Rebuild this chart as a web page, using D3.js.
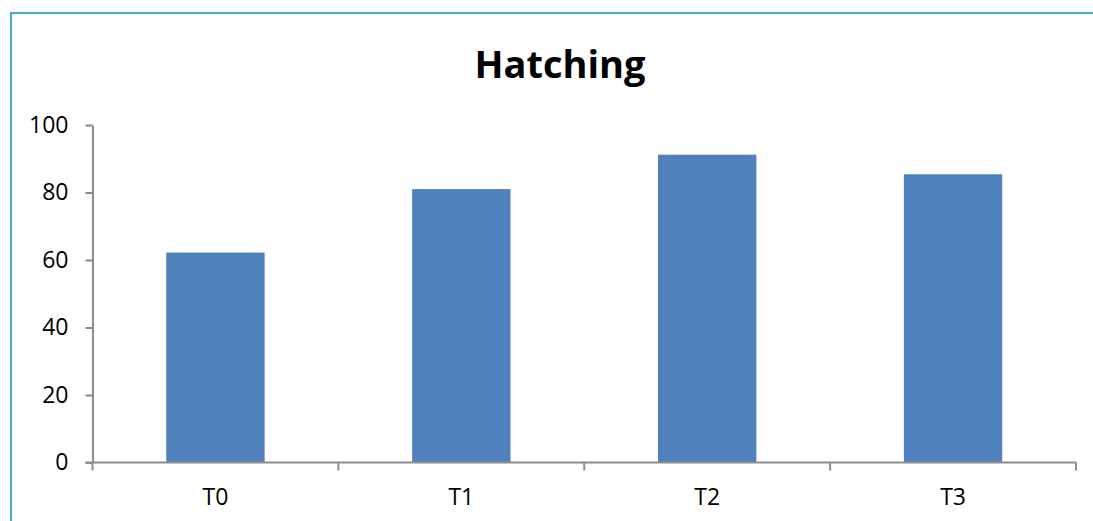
<!DOCTYPE html>
<html>
<head>
<meta charset="utf-8">
<script src="https://cdn.jsdelivr.net/npm/d3@7"></script>
<style>
  html, body { margin: 0; padding: 0; background: #fff; }
  svg { display: block; }
  text { font-family: "Open Sans", "Noto Sans", sans-serif; fill: #000; }
</style>
</head>
<body>
<svg id="chart" width="1093" height="521"></svg>
<script>
// Hatching rate by treatment
const categories = ["T0", "T1", "T2", "T3"];
const values = [62.2, 81.0, 91.2, 85.4];
const yTicks = [0, 20, 40, 60, 80, 100];
const title = "Hatching";

const svg = d3.select("#chart");
const W = 1093, H = 521;
const plot = { left: 92.5, right: 1076, top: 125, bottom: 462.5 };

// chart frame
svg.append("rect")
  .attr("x", 11).attr("y", 13)
  .attr("width", W + 10).attr("height", H + 10)
  .attr("fill", "none")
  .attr("stroke", "#4BACC6")
  .attr("stroke-width", 2.2);

const x = d3.scaleBand()
  .domain(categories)
  .range([plot.left, plot.right])
  .paddingInner(0.6)
  .paddingOuter(0.3);

const y = d3.scaleLinear()
  .domain([0, 100])
  .range([plot.bottom, plot.top]);

// bars
svg.append("g").selectAll("rect")
  .data(values)
  .join("rect")
  .attr("x", (d, i) => x(categories[i]))
  .attr("width", x.bandwidth())
  .attr("y", d => y(d))
  .attr("height", d => y(0) - y(d))
  .attr("fill", "#4F81BD");

// y axis
const yAxis = svg.append("g")
  .attr("transform", `translate(${plot.left},0)`)
  .call(d3.axisLeft(y).tickValues(yTicks).tickSize(7).tickPadding(17).tickSizeOuter(0));
yAxis.select(".domain").attr("stroke", "#8C8C8C").attr("stroke-width", 2);
yAxis.selectAll(".tick line").attr("stroke", "#8C8C8C").attr("stroke-width", 2);
yAxis.selectAll(".tick text")
  .style("font-family", '"Open Sans", "Noto Sans", sans-serif')
  .style("font-size", "23px")
  .attr("fill", "#000");

// x axis: line with ticks at category boundaries
const step = x.step();
const boundaries = d3.range(categories.length + 1).map(i => plot.left + i * step);
const xg = svg.append("g");
xg.append("line")
  .attr("x1", plot.left - 7).attr("x2", plot.right)
  .attr("y1", y(0)).attr("y2", y(0))
  .attr("stroke", "#8C8C8C").attr("stroke-width", 2);
xg.selectAll("line.bt")
  .data(boundaries)
  .join("line")
  .attr("class", "bt")
  .attr("x1", d => d).attr("x2", d => d)
  .attr("y1", y(0)).attr("y2", y(0) + 8)
  .attr("stroke", "#8C8C8C").attr("stroke-width", 2);
xg.selectAll("text")
  .data(categories)
  .join("text")
  .attr("x", d => x(d) + x.bandwidth() / 2)
  .attr("y", 505)
  .attr("text-anchor", "middle")
  .style("font-size", "23px")
  .text(d => d);

// title
svg.append("text")
  .attr("x", 560)
  .attr("y", 78)
  .attr("text-anchor", "middle")
  .style("font-size", "38px")
  .style("font-weight", "bold")
  .text(title);
</script>
</body>
</html>
